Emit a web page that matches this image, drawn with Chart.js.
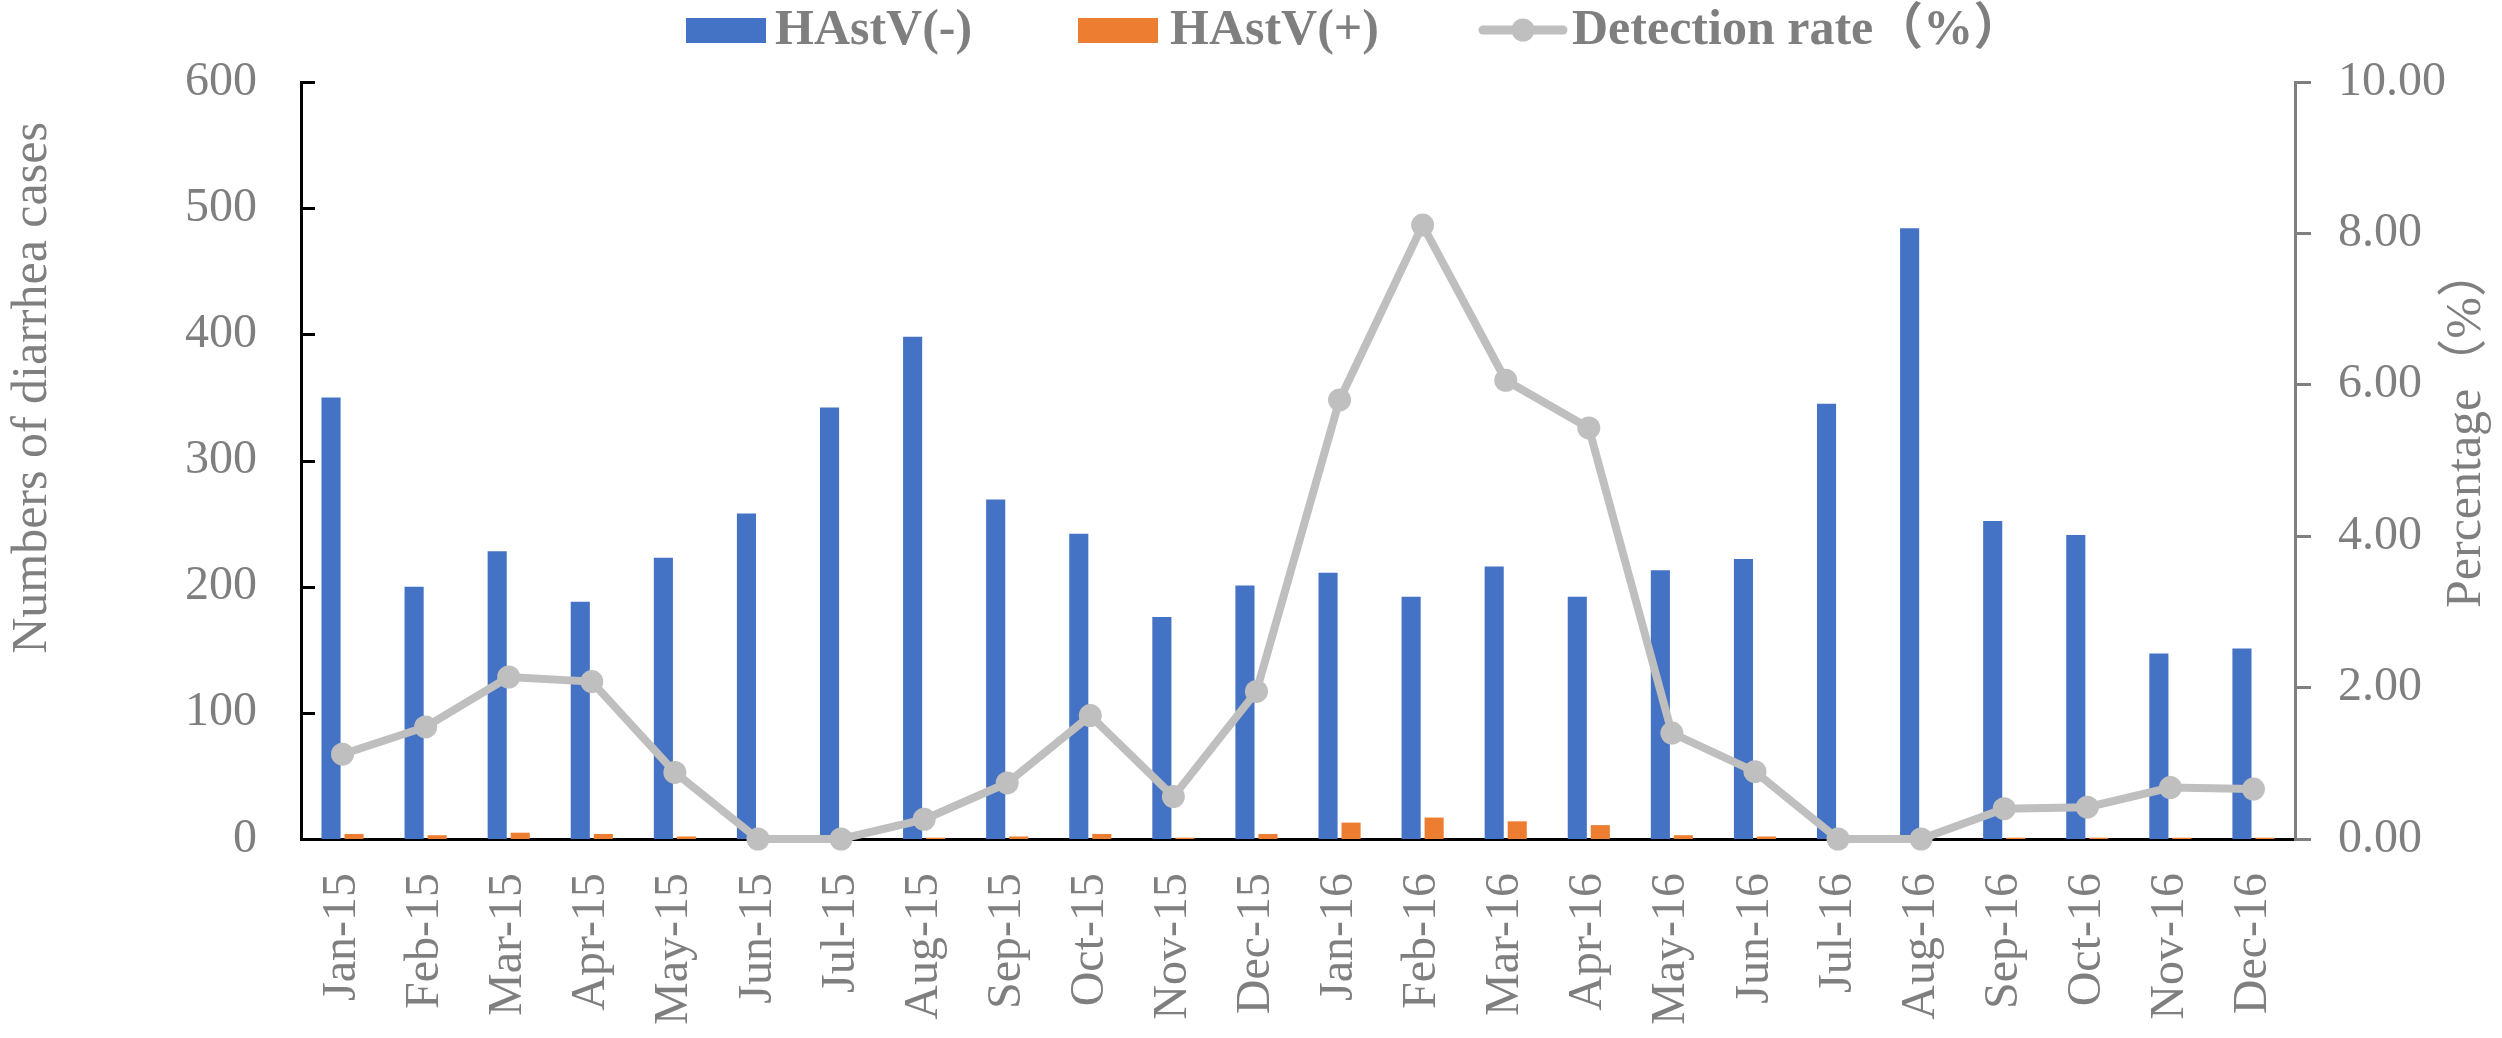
<!DOCTYPE html>
<html>
<head>
    <title>HAstV detection by month</title>
    <script src="https://cdn.jsdelivr.net/npm/chart.js"></script>
    <style>
        html, body { margin: 0; padding: 0; background: #ffffff; }
        .chart-box { width: 2502px; height: 1038px; position: relative; }
    </style>
</head>
<body>
    <div class="chart-box">
        <canvas id="hastvChart"></canvas>
    </div>

    <script>
        // months on the x axis
        const months = ['Jan-15', 'Feb-15', 'Mar-15', 'Apr-15', 'May-15', 'Jun-15', 'Jul-15', 'Aug-15',
            'Sep-15', 'Oct-15', 'Nov-15', 'Dec-15', 'Jan-16', 'Feb-16', 'Mar-16', 'Apr-16',
            'May-16', 'Jun-16', 'Jul-16', 'Aug-16', 'Sep-16', 'Oct-16', 'Nov-16', 'Dec-16'];

        // numbers of cases (left axis)
        const negativeCases = [350, 200, 228, 188, 223, 258, 342, 398, 269, 242, 176, 201,
            211, 192, 216, 192, 213, 222, 345, 484, 252, 241, 147, 151];
        const positiveCases = [4, 3, 5, 4, 2, 0, 0, 1, 2, 4, 1, 4,
            13, 17, 14, 11, 3, 2, 0, 0, 1, 1, 1, 1];

        // detection rate in % (right axis)
        const detectionRate = [1.12, 1.48, 2.14, 2.08, 0.88, 0.00, 0.00, 0.26, 0.74, 1.63, 0.56, 1.95,
            5.80, 8.11, 6.06, 5.43, 1.40, 0.89, 0.00, 0.00, 0.40, 0.42, 0.68, 0.66];

        const leftTicks = [0, 100, 200, 300, 400, 500, 600];
        const rightTicks = [0, 2, 4, 6, 8, 10];

        const seriesNames = ['HAstV(-)', 'HAstV(+)', 'Detection rate（%）'];
        const leftTitle = 'Numbers of diarrhea cases';
        const rightTitle = 'Percentage（%）';

        const grey = '#7F7F7F';
        const serif = '"Liberation Serif", "Times New Roman", "Noto Sans CJK SC", serif';

        // legend, axis titles and the inward ticks of the left axis
        const extras = {
            id: 'extras',
            afterDraw(chart) {
                const ctx = chart.ctx;
                const area = chart.chartArea;
                const yScale = chart.scales.y;
                ctx.save();

                ctx.strokeStyle = '#000000';
                ctx.lineWidth = 3;
                yScale.ticks.forEach(t => {
                    if (t.value === 0) return;
                    const py = Math.round(yScale.getPixelForValue(t.value)) + 0.5;
                    ctx.beginPath();
                    ctx.moveTo(area.left, py);
                    ctx.lineTo(area.left + 14, py);
                    ctx.stroke();
                });

                // axis titles
                ctx.fillStyle = grey;
                ctx.font = '50px ' + serif;
                ctx.textBaseline = 'alphabetic';

                ctx.save();
                ctx.translate(46, 388);
                ctx.rotate(-Math.PI / 2);
                ctx.textAlign = 'center';
                ctx.fillText(leftTitle, 0, 0);
                ctx.restore();

                ctx.save();
                ctx.translate(2480, 608);
                ctx.rotate(-Math.PI / 2);
                ctx.textAlign = 'left';
                ctx.fillText(rightTitle, 0, 0);
                ctx.restore();

                // legend
                ctx.font = 'bold 50px ' + serif;
                ctx.textAlign = 'left';
                ctx.fillStyle = '#4472C4';
                ctx.fillRect(686, 18, 80, 25);
                ctx.fillStyle = grey;
                ctx.fillText(seriesNames[0], 775, 44);

                ctx.fillStyle = '#ED7D31';
                ctx.fillRect(1078, 18, 80, 25);
                ctx.fillStyle = grey;
                ctx.fillText(seriesNames[1], 1170, 44);

                ctx.strokeStyle = '#BFBFBF';
                ctx.lineWidth = 9;
                ctx.lineCap = 'round';
                ctx.beginPath();
                ctx.moveTo(1483, 30);
                ctx.lineTo(1563, 30);
                ctx.stroke();
                ctx.fillStyle = '#BFBFBF';
                ctx.beginPath();
                ctx.arc(1523, 30, 11.5, 0, Math.PI * 2);
                ctx.fill();
                ctx.fillStyle = grey;
                ctx.fillText(seriesNames[2], 1572, 44);

                ctx.restore();
            }
        };

        const ctx = document.getElementById('hastvChart').getContext('2d');
        const chart = new Chart(ctx, {
            type: 'bar',
            data: {
                labels: months,
                datasets: [
                    {
                        type: 'line',
                        label: seriesNames[2],
                        data: detectionRate,
                        yAxisID: 'y1',
                        borderColor: '#BFBFBF',
                        backgroundColor: '#BFBFBF',
                        borderWidth: 8,
                        pointRadius: 11.5,
                        pointBorderWidth: 0,
                        pointBackgroundColor: '#BFBFBF',
                        tension: 0,
                        clip: false,
                        order: 0
                    },
                    {
                        label: seriesNames[0],
                        data: negativeCases,
                        yAxisID: 'y',
                        backgroundColor: '#4472C4',
                        categoryPercentage: 0.554,
                        barPercentage: 0.83,
                        order: 1
                    },
                    {
                        label: seriesNames[1],
                        data: positiveCases,
                        yAxisID: 'y',
                        backgroundColor: '#ED7D31',
                        categoryPercentage: 0.554,
                        barPercentage: 0.83,
                        order: 1
                    }
                ]
            },
            options: {
                responsive: true,
                maintainAspectRatio: false,
                devicePixelRatio: 1,
                animation: false,
                layout: { padding: { top: 82, left: 0, right: 0, bottom: 0 } },
                plugins: {
                    legend: { display: false },
                    tooltip: { enabled: false }
                },
                scales: {
                    x: {
                        grid: { display: false, drawTicks: false },
                        border: { color: '#000000', width: 3 },
                        ticks: {
                            color: grey,
                            font: { family: serif, size: 48 },
                            minRotation: 90,
                            maxRotation: 90,
                            padding: 34,
                            autoSkip: false
                        },
                        afterFit: s => { s.height = 199; }
                    },
                    y: {
                        position: 'left',
                        min: 0,
                        max: 600,
                        afterBuildTicks: s => { s.ticks = leftTicks.map(v => ({ value: v })); },
                        grid: { display: false, drawTicks: false },
                        border: { color: '#000000', width: 3 },
                        ticks: {
                            color: grey,
                            font: { family: serif, size: 48 },
                            padding: 44
                        },
                        afterFit: s => { s.width = 301; }
                    },
                    y1: {
                        position: 'right',
                        min: 0,
                        max: 10,
                        afterBuildTicks: s => { s.ticks = rightTicks.map(v => ({ value: v })); },
                        grid: { drawOnChartArea: false, drawTicks: true, tickLength: 16, color: grey, lineWidth: 3 },
                        border: { color: grey, width: 3 },
                        ticks: {
                            color: grey,
                            font: { family: serif, size: 48 },
                            padding: 27,
                            callback: v => Number(v).toFixed(2)
                        },
                        afterFit: s => { s.width = 207; }
                    }
                }
            },
            plugins: [extras]
        });
    </script>
</body>
</html>
